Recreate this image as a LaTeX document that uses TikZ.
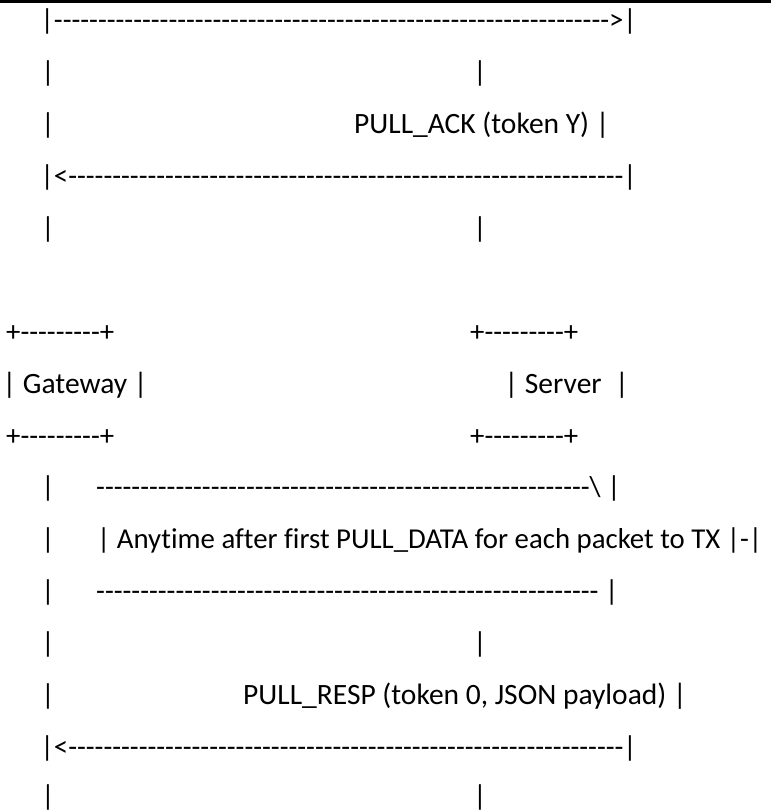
\documentclass[tikz,border=0pt]{standalone}
\usepackage{fontspec}
\setmainfont{Carlito}[Ligatures=NoCommon]
\tikzset{
  ascii/.style={anchor=mid west,inner sep=0pt,font=\fontsize{28.8}{30}\selectfont},
  words/.style={ascii,font=\fontsize{29.5}{31}\selectfont},
  lifebar/.style={ascii,anchor=mid}
}
% a run of single hyphens (no en dash ligature)
\newcommand\dashrun[1]{\foreach \d in {1,...,#1}{-\kern0pt}}

\begin{document}
\begin{tikzpicture}[x=1pt,y=-1pt]
	\useasboundingbox (0,0) rectangle (771,811);
	% rule at the top
	\draw[line width=3pt] (0,1.5) -- (771,1.5);
	% PULL_DATA and its ack
	\node[ascii]   (pulldata) at (40.5,27.5)  {|\dashrun{63}>|};
	\node[lifebar] (gwA)      at (48,79.4)    {|};
	\node[lifebar] (srvA)     at (480,79.4)   {|};
	\node[lifebar] (gwB)      at (48,131.3)   {|};
	\node[words]   (pullack)  at (354,131.3)  {PULL\_ACK (token Y) |};
	\node[ascii]   (ackline)  at (40.5,183.2) {|<\dashrun{63}|};
	\node[lifebar] (gwC)      at (48,235.1)   {|};
	\node[lifebar] (srvC)     at (480,235.1)  {|};
	% the two boxes
	\node[ascii] (gwtop)   at (6,338.9)     {+\dashrun{9}+};
	\node[ascii] (srvtop)  at (470,338.9)   {+\dashrun{9}+};
	\node[words] (gateway) at (2.5,390.8)   {| Gateway |};
	\node[words] (server)  at (504.5,390.8) {| Server\ \ |};
	\node[ascii] (gwbot)   at (6,442.7)     {+\dashrun{9}+};
	\node[ascii] (srvbot)  at (470,442.7)   {+\dashrun{9}+};
	% note box
	\node[lifebar] (gwD)      at (48,494.6)   {|};
	\node[ascii]   (notetop)  at (96,494.6)   {\dashrun{56}\textbackslash\ |};
	\node[lifebar] (gwE)      at (48,546.5)   {|};
	\node[ascii]   (note)     at (97,546.5)   {| Anytime after first PULL\_DATA for each packet to TX |-|};
	\node[lifebar] (gwF)      at (48,598.4)   {|};
	\node[ascii]   (notebot)  at (96,598.4)   {\dashrun{57}\ |};
	% PULL_RESP
	\node[lifebar] (gwG)      at (48,650.3)   {|};
	\node[lifebar] (srvG)     at (480,650.3)  {|};
	\node[lifebar] (gwH)      at (48,702.2)   {|};
	\node[words]   (pullresp) at (243,702.2)  {PULL\_RESP (token 0, JSON payload) |};
	\node[ascii]   (respline) at (40.5,754.1) {|<\dashrun{63}|};
	\node[lifebar] (gwI)      at (48,803.5)   {|};
	\node[lifebar] (srvI)     at (480,803.5)  {|};
\end{tikzpicture}
\end{document}
